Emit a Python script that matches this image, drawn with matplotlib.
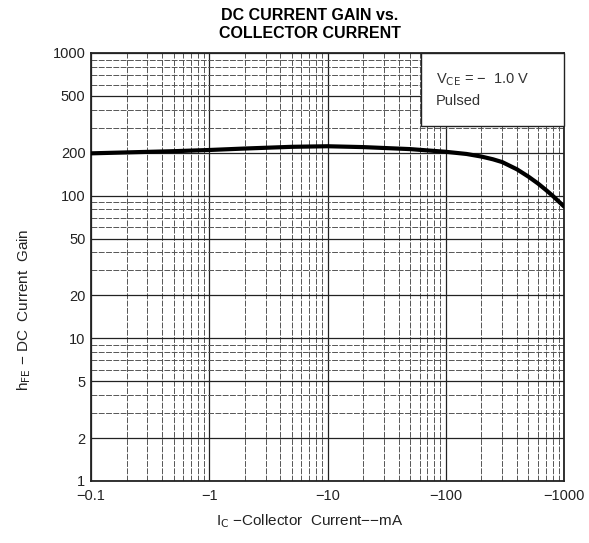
import numpy as np
import matplotlib
matplotlib.use("Agg")
import matplotlib.pyplot as plt
from matplotlib.patches import Rectangle
from matplotlib.ticker import LogLocator, NullFormatter, FixedLocator

# ----------- Data -----------------------------------------
ic_ma = [0.1, 0.2, 0.5, 1, 2, 5, 10, 20, 50, 100, 150, 200, 250, 300, 400,
         500, 600, 700, 800, 1000]
hfe = [198, 201, 205, 209, 214, 220, 222, 219, 212, 203, 196, 188, 180, 172, 153,
       136, 122, 110, 100, 84]

x_ticks = [0.1, 1, 10, 100, 1000]
x_labels = ["\u22120.1", "\u22121", "\u221210", "\u2212100", "\u22121000"]
y_ticks = [1, 2, 5, 10, 20, 50, 100, 200, 500, 1000]
y_labels = ["1", "2", "5", "10", "20", "50", "100", "200", "500", "1000"]
# ----------------------------------------------------------

plt.rcParams["font.family"] = ["Liberation Sans", "DejaVu Sans"]

fig = plt.figure(figsize=(5.89, 5.43), dpi=100)
ax = fig.add_axes([91 / 589, 1 - 481 / 543, 473 / 589, 428 / 543])

ax.set_xscale("log")
ax.set_yscale("log")
ax.set_xlim(0.1, 1000)
ax.set_ylim(1, 1000)

# log grid like the printed chart paper
ax.xaxis.set_minor_locator(LogLocator(base=10, subs=np.arange(2, 10)))
ax.yaxis.set_minor_locator(LogLocator(base=10, subs=np.arange(2, 10)))
ax.xaxis.set_minor_formatter(NullFormatter())
ax.yaxis.set_minor_formatter(NullFormatter())
ax.grid(which="major", color="#222222", lw=0.9)
ax.grid(which="minor", color="#555555", lw=0.7, ls=(0, (6, 1.5)))

ax.xaxis.set_major_locator(FixedLocator(x_ticks))
ax.set_xticklabels(x_labels)
ax.yaxis.set_major_locator(FixedLocator(y_ticks))
ax.set_yticklabels(y_labels)
ax.tick_params(which="both", length=0, labelsize=10.5, colors="#222222")
ax.tick_params(axis="x", pad=6)
ax.tick_params(axis="y", pad=4)

for sp in ax.spines.values():
    sp.set_linewidth(1.3)
    sp.set_color("#222222")

ax.plot(ic_ma, hfe, color="black", lw=3.0, solid_capstyle="round",
        solid_joinstyle="round", zorder=5)

# condition box in the upper right corner
ax.add_patch(Rectangle((0.698, 0.829), 0.302, 0.171, transform=ax.transAxes,
                       fc="white", ec="#222222", lw=1.0, zorder=6, clip_on=False))
ax.text(0.729, 0.937, "V$_{\\mathrm{CE}}$ = \u2212  1.0 V", transform=ax.transAxes,
        ha="left", va="center", fontsize=10.5, color="#333333", zorder=7)
ax.text(0.729, 0.888, "Pulsed", transform=ax.transAxes,
        ha="left", va="center", fontsize=10.5, color="#333333", zorder=7)

fig.text(310 / 589, 1 - 15 / 543, "DC CURRENT GAIN vs.", ha="center", va="center",
         fontsize=11.5, fontweight="bold")
fig.text(310 / 589, 1 - 33 / 543, "COLLECTOR CURRENT", ha="center", va="center",
         fontsize=11.5, fontweight="bold")

fig.text(310 / 589, 1 - 521 / 543, "I$_{\\mathrm{C}}$ \u2212Collector  Current\u2212\u2212mA",
         ha="center", va="center", fontsize=11, color="#222222")
fig.text(24 / 589, 1 - 310 / 543, "h$_{\\mathrm{FE}}$ \u2212 DC  Current  Gain", rotation=90,
         ha="center", va="center", fontsize=11, color="#222222")

fig.savefig("out.png", dpi=100)
